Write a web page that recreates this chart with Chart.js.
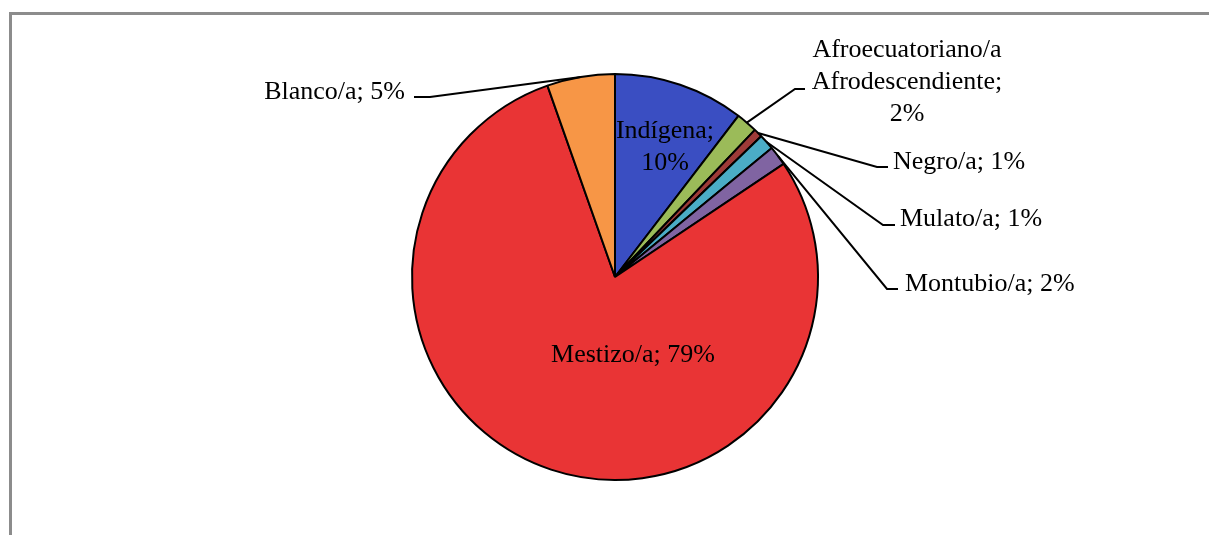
<!DOCTYPE html>
<html>
<head>
<meta charset="utf-8">
<script src="https://cdn.jsdelivr.net/npm/chart.js@4.4.0/dist/chart.umd.min.js"></script>
<style>
  body { margin: 0; background: #fff; }
  .wrap { position: relative; width: 1209px; height: 535px; overflow: hidden; }
  .marco { position: absolute; left: 9px; top: 12px; width: 1300px; height: 600px;
           border-left: 3px solid #8c8c8c; border-top: 3px solid #8c8c8c; box-shadow: -1px -1px 0 #ddd inset; }
  canvas { position: absolute; left: 0; top: 0; }
</style>
</head>
<body>
<div class="wrap">
  <div class="marco"></div>
  <canvas id="torta" width="1209" height="535"></canvas>
</div>
<script>
// datos (porcentaje)
const categorias = ['Indígena', 'Afroecuatoriano/a Afrodescendiente', 'Negro/a', 'Mulato/a', 'Montubio/a', 'Mestizo/a', 'Blanco/a']
const valores = [10.4, 1.7, 0.7, 1.25, 1.55, 79.0, 5.4]
const colores = ['#3A4EC2', '#9BBB59', '#9E3B38', '#4BACC6', '#8064A2', '#E93435', '#F79646']

// donde va cada etiqueta (x, y, alineacion, ancho max, codo de la linea guia)
const posEtiquetas = [
    { x: 665, y: 131, align: 'center', ancho: 120 },
    { x: 907, y: 50, align: 'center', ancho: 200, codo: [795, 89, 805, 89] },
    { x: 893, y: 162, align: 'left', ancho: 400, codo: [877, 167, 888, 167] },
    { x: 900, y: 219, align: 'left', ancho: 400, codo: [883, 225, 895, 225] },
    { x: 905, y: 284, align: 'left', ancho: 400, codo: [887, 289, 898, 289] },
    { x: 633, y: 355, align: 'center', ancho: 400 },
    { x: 405, y: 92, align: 'right', ancho: 400, codo: [430, 97, 414, 97] }
]

function partirTexto(ctx, texto, ancho) {
    const palabras = texto.split(' ')
    const lineas = []
    let actual = ''
    palabras.forEach(p => {
        const prueba = actual ? actual + ' ' + p : p
        if (actual && ctx.measureText(prueba).width > ancho) {
            lineas.push(actual)
            actual = p
        } else {
            actual = prueba
        }
    })
    lineas.push(actual)
    return lineas
}

const etiquetas = {
    id: 'etiquetas',
    afterDatasetsDraw(chart) {
        const ctx = chart.ctx
        const arcos = chart.getDatasetMeta(0).data
        ctx.save()
        ctx.font = '26px "Liberation Serif"'
        ctx.fillStyle = '#000'
        ctx.strokeStyle = '#000'
        ctx.lineWidth = 2
        ctx.textBaseline = 'middle'
        arcos.forEach((arco, i) => {
            const p = posEtiquetas[i]
            if (p.codo) {
                const a = (arco.startAngle + arco.endAngle) / 2
                const x0 = arco.x + Math.cos(a) * arco.outerRadius
                const y0 = arco.y + Math.sin(a) * arco.outerRadius
                ctx.beginPath()
                ctx.moveTo(x0, y0)
                ctx.lineTo(p.codo[0], p.codo[1])
                ctx.lineTo(p.codo[2], p.codo[3])
                ctx.stroke()
            }
            const texto = categorias[i] + '; ' + Math.round(valores[i]) + '%'
            ctx.textAlign = p.align
            partirTexto(ctx, texto, p.ancho).forEach((l, k) => {
                ctx.fillText(l, p.x, p.y + k * 32)
            })
        })
        ctx.restore()
    }
}

const config = {
    type: 'pie',
    data: {
        labels: categorias,
        datasets: [{
            data: valores,
            backgroundColor: colores,
            borderColor: '#000',
            borderWidth: 2,
            radius: 203
        }]
    },
    options: {
        responsive: false,
        animation: false,
        layout: { padding: { left: 412, right: 391, top: 74, bottom: 55 } },
        plugins: { legend: { display: false }, tooltip: { enabled: false } }
    },
    plugins: [etiquetas]
}

new Chart(document.getElementById('torta').getContext('2d'), config)
</script>
</body>
</html>
